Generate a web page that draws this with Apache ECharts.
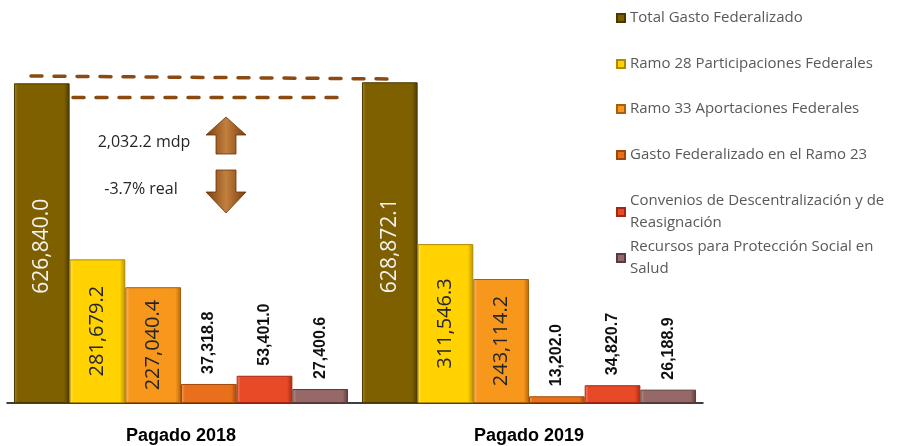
<!DOCTYPE html>
<html>
<head>
<meta charset="utf-8">
<script src="https://cdn.jsdelivr.net/npm/echarts@6/dist/echarts.min.js"></script>
<style>
  html, body { margin: 0; padding: 0; background: #fff; }
  #chart { width: 898px; height: 446px; }
</style>
</head>
<body>
<div id="chart"></div>
<script>
// categorias y series
var categories = ['Pagado 2018', 'Pagado 2019'];
var seriesNames = [
  'Total Gasto Federalizado',
  'Ramo 28 Participaciones Federales',
  'Ramo 33 Aportaciones Federales',
  'Gasto Federalizado en el Ramo 23',
  'Convenios de Descentralización y de\nReasignación',
  'Recursos para Protección Social en\nSalud'
];
var totalGasto = [626840.0, 628872.1];
var ramo28 = [281679.2, 311546.3];
var ramo33 = [227040.4, 243114.2];
var ramo23 = [37318.8, 13202.0];
var convenios = [53401.0, 34820.7];
var salud = [27400.6, 26188.9];

var annotUp = '2,032.2 mdp';
var annotDown = '-3.7% real';

var FONT = 'Open Sans';

function fmt(v) {
  return v.toLocaleString('en-US', { minimumFractionDigits: 1, maximumFractionDigits: 1 });
}

// gradiente lateral para simular el bisel
function bevel(light, base, dark) {
  return new echarts.graphic.LinearGradient(0, 0, 1, 0, [
    { offset: 0, color: light },
    { offset: 0.07, color: base },
    { offset: 0.9, color: base },
    { offset: 1, color: dark }
  ]);
}

var palette = [
  { c: bevel('#A88A1C', '#7F6000', '#4A3800'), b: '#4A3800' },
  { c: bevel('#FFE566', '#FFD200', '#B89300'), b: '#B08A00' },
  { c: bevel('#FFC070', '#F7981D', '#B5660A'), b: '#A85E0A' },
  { c: bevel('#F6A060', '#E8701C', '#A84A0A'), b: '#A04808' },
  { c: bevel('#F88A70', '#E84A27', '#A82A10'), b: '#A02810' },
  { c: bevel('#C09595', '#976868', '#5E3C3C'), b: '#5A3A3A' }
];

var seriesData = [totalGasto, ramo28, ramo33, ramo23, convenios, salud];

function insideLabel(color, size, offsetX) {
  return {
    show: true,
    position: 'inside',
    rotate: 90,
    offset: [offsetX, 0],
    color: color,
    fontFamily: FONT,
    fontSize: size,
    formatter: function (p) { return fmt(p.value); }
  };
}

function topLabel() {
  return {
    show: true,
    position: 'top',
    rotate: 90,
    align: 'left',
    verticalAlign: 'middle',
    distance: 10,
    color: '#111',
    fontFamily: 'Liberation Sans',
    fontWeight: 'bold',
    fontSize: 16,
    formatter: function (p) { return fmt(p.value); }
  };
}

var labels = [
  insideLabel('#F2F2F2', 21, -3),
  insideLabel('#262626', 20, 0),
  insideLabel('#262626', 20, 0),
  topLabel(),
  topLabel(),
  topLabel()
];

var series = seriesNames.map(function (name, i) {
  return {
    name: name,
    type: 'bar',
    barGap: '0%',
    barCategoryGap: '4%',
    data: seriesData[i],
    itemStyle: { color: palette[i].c, borderColor: palette[i].b, borderWidth: 1 },
    label: labels[i]
  };
});

// leyendas: una por elemento para controlar la posicion
var legendCenters = [16, 62, 107, 153, 199, 245];
var legends = seriesNames.map(function (name, i) {
  var multi = name.indexOf('\n') >= 0;
  return {
    data: [name],
    orient: 'vertical',
    left: 611,
    top: multi ? legendCenters[i] - 25 : legendCenters[i] - 12,
    itemWidth: 8,
    itemHeight: 8,
    itemGap: 0,
    icon: 'rect',
    selectedMode: false,
    textStyle: {
      fontFamily: FONT,
      fontSize: 15,
      color: '#595959',
      lineHeight: multi ? 22 : 18,
      padding: multi ? [22, 0, 0, 0] : 0
    }
  };
});

var arrowFill = new echarts.graphic.LinearGradient(0, 0, 1, 0, [
  { offset: 0, color: '#7A3E0C' },
  { offset: 0.5, color: '#C2803F' },
  { offset: 1, color: '#7A3E0C' }
]);

var option = {
  backgroundColor: '#fff',
  animation: false,
  grid: { left: 7, right: 195, top: 46, bottom: 43 },
  legend: legends,
  xAxis: {
    type: 'category',
    data: categories,
    axisTick: { show: false },
    axisLine: { lineStyle: { color: '#000', width: 1.5 } },
    axisLabel: {
      margin: 24,
      color: '#000',
      fontFamily: 'Liberation Sans',
      fontWeight: 'bold',
      fontSize: 18
    }
  },
  yAxis: {
    type: 'value',
    min: 0,
    max: 700000,
    show: false,
    splitLine: { show: false }
  },
  series: series,
  graphic: [
    {
      type: 'line',
      shape: { x1: 31, y1: 76, x2: 398, y2: 79 },
      style: { stroke: '#8B4A12', lineWidth: 3.5, lineDash: [11, 12], lineCap: 'round' },
      z: 10
    },
    {
      type: 'line',
      shape: { x1: 73, y1: 97.5, x2: 345, y2: 97.5 },
      style: { stroke: '#8B4A12', lineWidth: 3.5, lineDash: [11, 12], lineCap: 'round' },
      z: 10
    },
    {
      type: 'polygon',
      shape: { points: [[226, 117], [246, 135], [236, 135], [236, 154], [216, 154], [216, 135], [206, 135]] },
      style: { fill: arrowFill, stroke: '#6A3208', lineWidth: 0.8 }
    },
    {
      type: 'polygon',
      shape: { points: [[216, 170], [236, 170], [236, 192], [246, 192], [226, 213], [206, 192], [216, 192]] },
      style: { fill: arrowFill, stroke: '#6A3208', lineWidth: 0.8 }
    },
    {
      type: 'text',
      x: 144, y: 142,
      style: { text: annotUp, fill: '#262626', font: '16px "' + FONT + '"', align: 'center', verticalAlign: 'middle' }
    },
    {
      type: 'text',
      x: 141, y: 189,
      style: { text: annotDown, fill: '#262626', font: '16px "' + FONT + '"', align: 'center', verticalAlign: 'middle' }
    }
  ]
};

var chart = echarts.init(document.getElementById('chart'));
chart.setOption(option);
</script>
</body>
</html>
